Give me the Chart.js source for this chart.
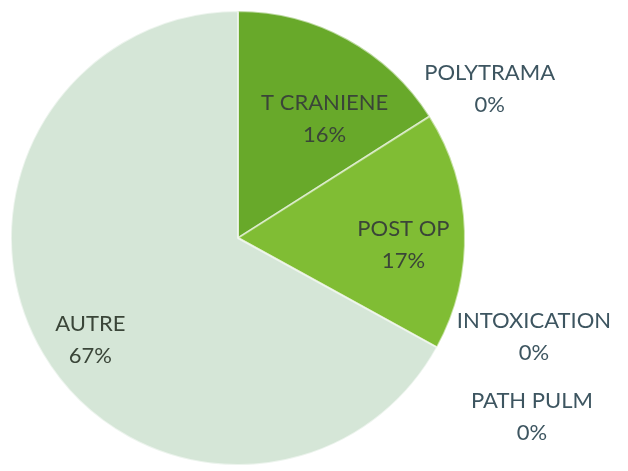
<!DOCTYPE html>
<html>
<head>
<meta charset="utf-8">
<script src="https://cdn.jsdelivr.net/npm/chart.js@4"></script>
<style>
  body { margin: 0; background: #fff; }
  canvas { display: block; }
</style>
</head>
<body>
<canvas id="camembert" width="628" height="471"></canvas>
<script>
const categories = ["T CRANIENE", "POLYTRAMA", "POST OP", "INTOXICATION", "PATH PULM", "AUTRE"];
const valeurs = [16, 0, 17, 0, 0, 67];
const couleurs = ["#68a92a", "#68a92a", "#80bd34", "#80bd34", "#80bd34", "#d5e6d7"];
const couleursTexte = ["#3a4538", "#3d5560", "#3a4538", "#3d5560", "#3d5560", "#3a4538"];
// decalage des etiquettes par rapport au point d'ancrage de chaque part
const decalages = [[32, -20], [60, -27], [52, 10], [97, -10], [95, 70], [-50, 44]];

const total = valeurs.reduce((a, b) => a + b, 0);

function degrade(ctx) {
  const chart = ctx.chart;
  const base = couleurs[ctx.dataIndex];
  const meta = chart.getDatasetMeta(0);
  const arc = meta.data[ctx.dataIndex];
  if (!arc || !arc.outerRadius) return base;
  const g = chart.ctx.createRadialGradient(arc.x, arc.y, 0, arc.x, arc.y, arc.outerRadius);
  g.addColorStop(0, base);
  g.addColorStop(0.9, base);
  g.addColorStop(1, Chart.helpers.color(base).darken(0.08).rgbString());
  return g;
}

const etiquettes = {
  id: "etiquettes",
  afterDatasetsDraw(chart) {
    const ctx = chart.ctx;
    const meta = chart.getDatasetMeta(0);
    ctx.save();
    ctx.font = "22px Lato, 'Open Sans', sans-serif";
    ctx.textAlign = "center";
    ctx.textBaseline = "middle";
    meta.data.forEach((arc, i) => {
      let px, py;
      if (valeurs[i] > 0) {
        const p = arc.tooltipPosition();
        px = p.x; py = p.y;
      } else {
        const a = arc.startAngle;
        px = arc.x + Math.cos(a) * arc.outerRadius;
        py = arc.y + Math.sin(a) * arc.outerRadius;
      }
      px += decalages[i][0];
      py += decalages[i][1];
      const pct = Math.round(valeurs[i] / total * 100) + "%";
      ctx.fillStyle = couleursTexte[i];
      ctx.fillText(categories[i], px, py - 16);
      ctx.fillText(pct, px, py + 16);
    });
    ctx.restore();
  }
};

new Chart(document.getElementById("camembert"), {
  type: "pie",
  data: {
    labels: categories,
    datasets: [{
      data: valeurs,
      backgroundColor: degrade,
      borderColor: "rgba(255,255,255,0.55)",
      borderWidth: [2, 0, 2, 0, 0, 2],
      hoverOffset: 0
    }]
  },
  options: {
    responsive: false,
    animation: false,
    layout: { padding: { left: 10, right: 162, top: 10, bottom: 5 } },
    plugins: {
      legend: { display: false },
      tooltip: { enabled: false }
    }
  },
  plugins: [etiquettes]
});
</script>
</body>
</html>
